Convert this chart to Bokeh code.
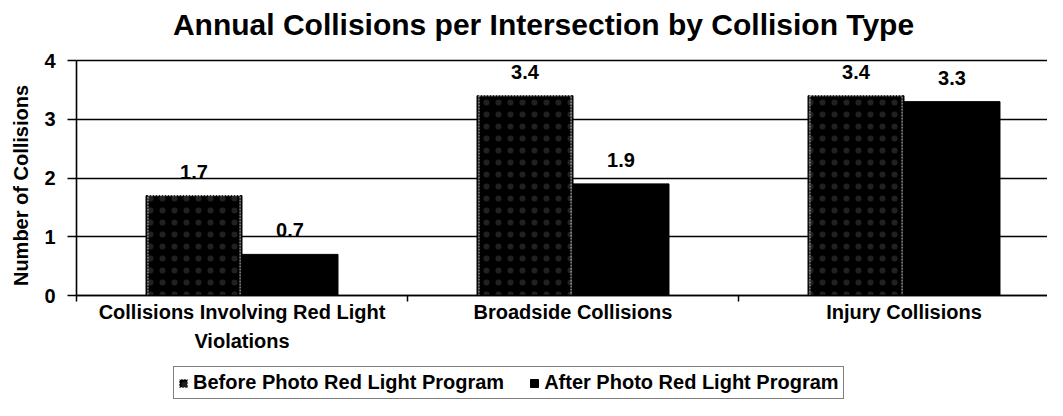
import math
from bokeh.plotting import figure
from bokeh.models import Range1d, FixedTicker, ColumnDataSource, Legend, LegendItem, LabelSet, Label
from bokeh.transform import dodge
from bokeh.core.properties import value
from bokeh.embed import file_html
from bokeh.resources import INLINE

# ---- data ----
categories = ["Collisions Involving Red Light\nViolations", "Broadside Collisions", "Injury Collisions"]
before = [1.7, 3.4, 3.4]
after = [0.7, 1.9, 3.3]
series_names = ["Before Photo Red Light Program", "After Photo Red Light Program"]
y_ticks = [0, 1, 2, 3, 4]
title_text = "Annual Collisions per Intersection by Collision Type"
y_label = "Number of Collisions"

FONT = "Liberation Sans"
# ---- layout (pixels) ----
W, H = 1047, 400
LEFT = 76                 # pixel column of the value axis
Y4_PX, Y0_PX = 60, 295    # pixel rows of the top and bottom value gridlines
CAT_PX = 331              # width of one category slot
TITLE_CX, TITLE_BASE = 543, 24
YLAB_CX, YLAB_CY = 20, 185
LEG_X = 173

y_max = max(y_ticks)
unit = (Y0_PX - Y4_PX) / y_max
y_top = y_max + Y4_PX / unit
y_bot = -(H - Y0_PX) / unit
x_start = -LEFT / CAT_PX
x_end = (W - LEFT) / CAT_PX


def px_x(px):
    return x_start + px / CAT_PX


def px_y(py):
    return (Y0_PX - py) / unit


xc = [i + 0.5 for i in range(len(categories))]
src = ColumnDataSource(dict(
    xc=xc, before=before, after=after,
    blab=[f"{v:.1f}" for v in before],
    alab=[f"{v:.1f}" for v in after],
))

p = figure(width=W, height=H, x_range=Range1d(x_start, x_end), y_range=Range1d(y_bot, y_top),
           output_backend="svg", toolbar_location=None,
           min_border_left=0, min_border_top=0, min_border_right=0, min_border_bottom=0)
p.outline_line_color = None
p.background_fill_color = "white"

# title
p.add_layout(Label(x=px_x(TITLE_CX), y=px_y(TITLE_BASE),
                   text=title_text, text_align="center", text_baseline="alphabetic",
                   text_font=FONT, text_font_style="bold", text_font_size="30px",
                   text_color="black"))

# value-axis title
p.add_layout(Label(x=px_x(YLAB_CX), y=px_y(YLAB_CY), text=y_label, angle=math.pi / 2,
                   text_align="center", text_baseline="middle",
                   text_font=FONT, text_font_style="bold", text_font_size="20px",
                   text_color="black"))

# horizontal value gridlines, only over the plotting area
grid = p.ygrid[0]
p.xgrid.grid_line_color = None
if "cross_bounds" in grid.properties():
    grid.ticker = FixedTicker(ticks=y_ticks)
    grid.cross_bounds = (0, x_end)
    grid.grid_line_color = "black"
    grid.grid_line_width = 1.6
else:
    grid.grid_line_color = None
    p.segment(x0=[0] * len(y_ticks), x1=[x_end] * len(y_ticks), y0=y_ticks, y1=y_ticks,
              line_color="black", line_width=1.6, level="underlay")

# bars
bw = 0.29
r_b = p.vbar(x=dodge("xc", -bw / 2, range=p.x_range), top="before", width=bw, source=src,
             fill_color="black", line_color="black", line_width=1,
             hatch_pattern="dot", hatch_color="white", hatch_alpha=0.13, hatch_scale=12, hatch_weight=1)
r_b2 = p.vbar(x=dodge("xc", -bw / 2, range=p.x_range), top="before", width=bw * 0.96, source=src,
              fill_color=None, line_color="#cfcfcf", line_width=1, line_dash="2 1")
r_a = p.vbar(x=dodge("xc", bw / 2, range=p.x_range), top="after", width=bw, source=src,
             fill_color="black", line_color="black", line_width=1)

# value labels
for col, lab, off in (("before", "blab", -bw / 2), ("after", "alab", bw / 2)):
    ls = LabelSet(x=dodge("xc", off, range=p.x_range), y=col, text=lab, source=src,
                  text_align="center", text_baseline="bottom", y_offset=17,
                  text_font=value(FONT), text_font_style="bold", text_font_size="20px",
                  text_color="black")
    p.add_layout(ls)

# y axis at x = 0
p.yaxis.fixed_location = 0
p.yaxis.ticker = FixedTicker(ticks=y_ticks)
p.yaxis.bounds = (0, y_max)
p.yaxis.major_label_text_font = FONT
p.yaxis.major_label_text_font_style = "bold"
p.yaxis.major_label_text_font_size = "20px"
p.yaxis.major_label_text_color = "black"
p.yaxis.major_label_standoff = 12
p.yaxis.major_tick_out = 9
p.yaxis.major_tick_in = 0
p.yaxis.minor_tick_line_color = None
p.yaxis.axis_line_width = 1.6
p.yaxis.axis_line_color = "black"
p.yaxis.major_tick_line_width = 1.6
p.yaxis.major_tick_line_color = "black"

# x axis at y = 0: labels at category centres, small ticks at boundaries
p.xaxis.fixed_location = 0
p.xaxis.bounds = (0, x_end)
p.xaxis.ticker = FixedTicker(ticks=xc, minor_ticks=list(range(len(categories) + 1)))
p.xaxis.major_label_overrides = {x: c for x, c in zip(xc, categories)}
p.xaxis.major_tick_line_color = None
p.xaxis.major_tick_out = 0
p.xaxis.major_tick_in = 0
p.xaxis.minor_tick_out = 6
p.xaxis.minor_tick_in = 0
p.xaxis.minor_tick_line_color = "black"
p.xaxis.minor_tick_line_width = 1.5
p.xaxis.axis_line_width = 1.6
p.xaxis.axis_line_color = "black"
p.xaxis.major_label_text_font = FONT
p.xaxis.major_label_text_font_style = "bold"
p.xaxis.major_label_text_font_size = "20px"
p.xaxis.major_label_text_color = "black"
p.xaxis.major_label_text_line_height = 1.35
p.xaxis.major_label_standoff = -1

# legend
legend = Legend(items=[LegendItem(label=series_names[0], renderers=[r_b, r_b2]),
                       LegendItem(label=series_names[1], renderers=[r_a])],
                orientation="horizontal", location=(LEG_X, 1),
                border_line_color="black", border_line_width=1.2, background_fill_color="white",
                label_text_font=FONT, label_text_font_style="bold", label_text_font_size="20px",
                label_text_color="black",
                glyph_width=10, glyph_height=10, label_standoff=5, spacing=25, padding=4, margin=0,
                label_height=19)
p.add_layout(legend, "center")

open("out.html", "w").write(file_html(p, INLINE))
